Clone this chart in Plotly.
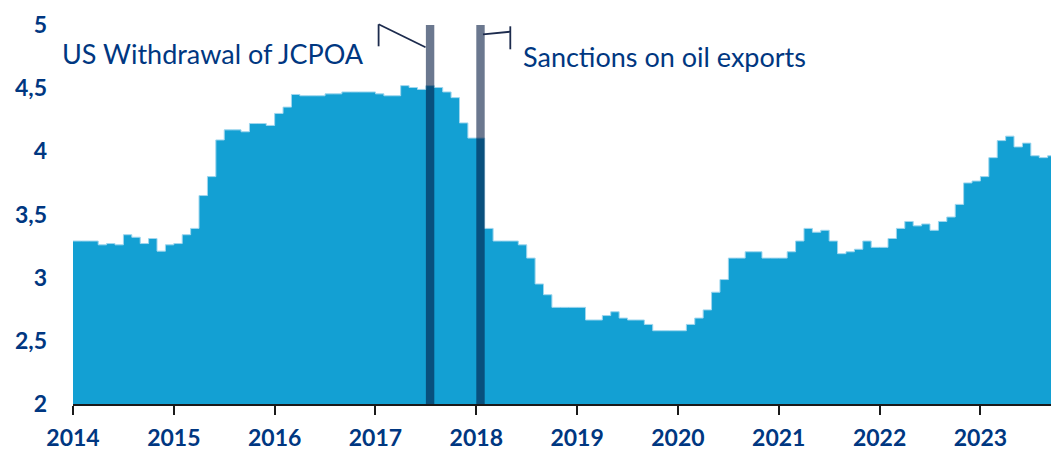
import pandas as pd
import plotly.graph_objects as go

# Monthly readings, January 2014 to September 2023
months = pd.period_range("2014-01", "2023-09", freq="M")
values = [
    3.29, 3.29, 3.29, 3.26, 3.27, 3.26, 3.34, 3.32, 3.27, 3.31, 3.21, 3.26,   # 2014
    3.27, 3.34, 3.39, 3.65, 3.80, 4.09, 4.17, 4.17, 4.155, 4.22, 4.22, 4.205,  # 2015
    4.30, 4.35, 4.45, 4.44, 4.44, 4.44, 4.455, 4.455, 4.47, 4.47, 4.47, 4.47,  # 2016
    4.455, 4.44, 4.44, 4.52, 4.505, 4.49, 4.52, 4.505, 4.47, 4.425, 4.225, 4.105,  # 2017
    4.105, 3.39, 3.29, 3.29, 3.29, 3.26, 3.155, 2.95, 2.865, 2.765, 2.765, 2.765,  # 2018
    2.765, 2.665, 2.665, 2.70, 2.73, 2.68, 2.665, 2.665, 2.63, 2.58, 2.58, 2.58,   # 2019
    2.58, 2.63, 2.68, 2.745, 2.885, 2.985, 3.155, 3.155, 3.205, 3.205, 3.155, 3.155,  # 2020
    3.155, 3.205, 3.29, 3.39, 3.36, 3.375, 3.29, 3.19, 3.205, 3.225, 3.29, 3.24,   # 2021
    3.24, 3.31, 3.39, 3.445, 3.41, 3.425, 3.375, 3.445, 3.48, 3.58, 3.75, 3.765,   # 2022
    3.80, 3.95, 4.085, 4.12, 4.035, 4.065, 3.965, 3.95, 3.965,                     # 2023
]

# Highlighted months and their labels
event_labels = ["US Withdrawal of JCPOA", "Sanctions on oil exports"]
event_months = [pd.Period("2017-07", "M"), pd.Period("2018-01", "M")]

year_ticks = list(range(2014, 2024))
y_ticks = [2, 2.5, 3, 3.5, 4, 4.5, 5]
y_tick_text = ["2", "2,5", "3", "3,5", "4", "4,5", "5"]

NAVY = "#003781"
BLUE = "#13a0d3"
FONT = "Lato"


def month_start(p):
    return p.year + (p.month - 1) / 12


# Step outline: each month's value held from its start to the next month
x_edges = [month_start(p) for p in months] + [month_start(months[-1] + 1)]
y_edges = list(values) + [values[-1]]

fig = go.Figure()
fig.add_trace(go.Scatter(
    x=x_edges, y=y_edges, mode="lines", line_shape="hv",
    line=dict(color="#9fd6ee", width=1),
    fill="tozeroy", fillcolor=BLUE, hoverinfo="skip",
))

# Event bars spanning the full value range
for p in event_months:
    fig.add_shape(
        type="rect", xref="x", yref="y",
        x0=month_start(p), x1=month_start(p + 1), y0=2, y1=5,
        fillcolor="rgba(0,22,62,0.58)", line_width=0, layer="above",
    )

W, H = 1051, 450
L, R, T, B = 73, 0, 25, 46
pw, ph = W - L - R, H - T - B


def px(x):
    return (x - L) / pw


def py(y):
    return (H - B - y) / ph


LEADER = dict(color="#1c2b4d", width=1.8)
# Leader for the first event
fig.add_shape(type="line", xref="paper", yref="paper",
              x0=px(378.6), y0=py(24.3), x1=px(378.6), y1=py(46.3), line=LEADER)
fig.add_shape(type="line", xref="paper", yref="paper",
              x0=px(378.6), y0=py(24.3), x1=px(425.5), y1=py(47.3), line=LEADER)
# Leader for the second event
fig.add_shape(type="line", xref="paper", yref="paper",
              x0=px(483), y0=py(34.3), x1=px(510.3), y1=py(31.7), line=LEADER)
fig.add_shape(type="line", xref="paper", yref="paper",
              x0=px(510.3), y0=py(26.3), x1=px(510.3), y1=py(49.3), line=LEADER)

fig.add_annotation(text=event_labels[0], xref="paper", yref="paper",
                   x=px(366), y=py(53.5), xanchor="right", yanchor="middle",
                   showarrow=False, font=dict(family=FONT, size=27, color=NAVY))
fig.add_annotation(text=event_labels[1], xref="paper", yref="paper",
                   x=px(521), y=py(56), xanchor="left", yanchor="middle",
                   showarrow=False, font=dict(family=FONT, size=27, color=NAVY))

fig.update_xaxes(
    range=[2014, 2023.70], tickvals=year_ticks, ticktext=[str(y) for y in year_ticks],
    showgrid=False, zeroline=False, showline=True, linecolor="#1a1a1a", linewidth=2,
    ticks="outside", ticklen=9, tickwidth=2, tickcolor="#1a1a1a",
    ticklabelstandoff=3,
    tickfont=dict(family=FONT, size=23, color=NAVY, weight="bold"),
)
fig.update_yaxes(
    range=[2, 5], tickvals=y_ticks, ticktext=y_tick_text,
    showgrid=False, zeroline=False, showline=False, ticks="",
    ticklabelstandoff=25,
    tickfont=dict(family=FONT, size=23, color=NAVY, weight="bold"),
)
fig.update_layout(
    width=W, height=H, margin=dict(l=L, r=R, t=T, b=B),
    plot_bgcolor="white", paper_bgcolor="white", showlegend=False,
)

fig.write_html("out.html")
